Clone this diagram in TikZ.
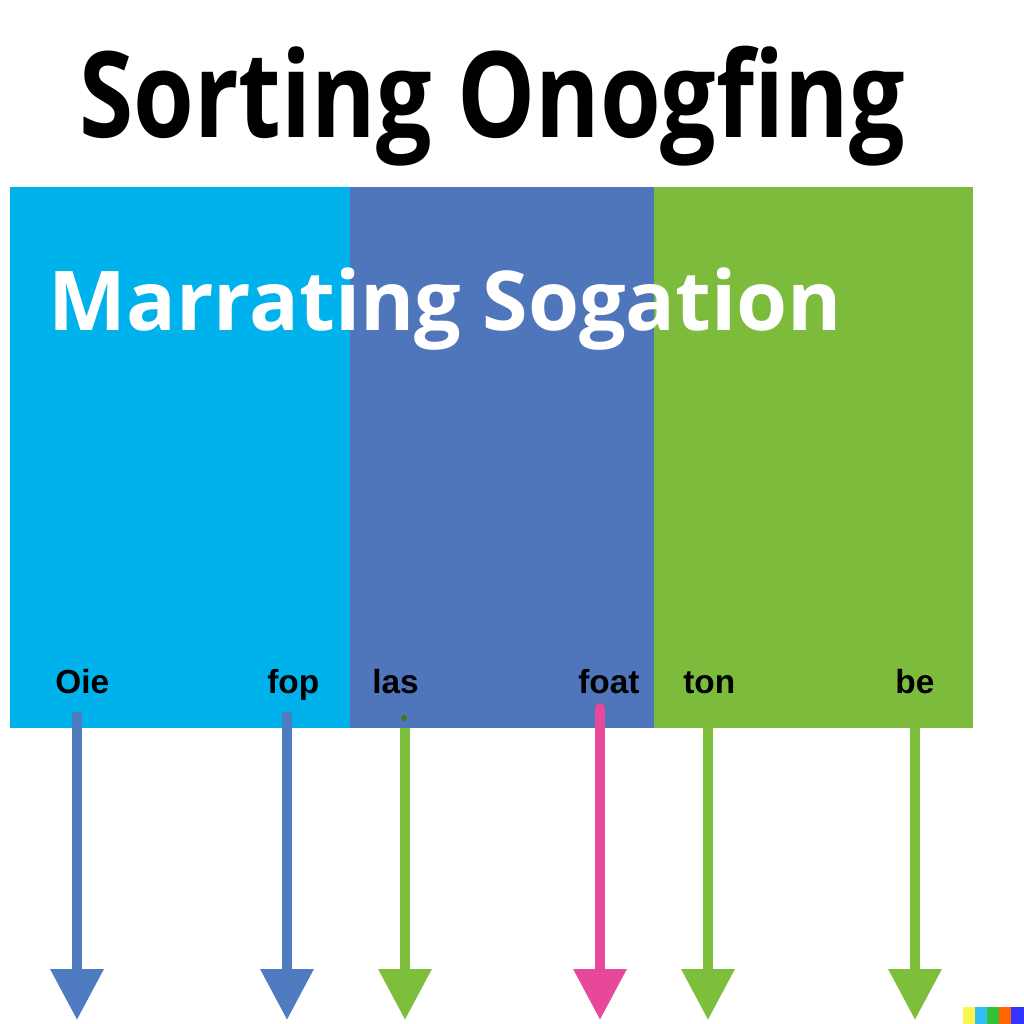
\documentclass[tikz,border=0pt]{standalone}
\usepackage{fontspec}
\setmainfont{Open Sans}
\newfontfamily\lblfont{Liberation Sans}
\usetikzlibrary{arrows.meta}
\definecolor{cyanbox}{HTML}{00B2EB}
\definecolor{bluebox}{HTML}{4F75BA}
\definecolor{greenbox}{HTML}{7CBB3C}
\definecolor{arrblue}{HTML}{4F7BC0}
\definecolor{arrgreen}{HTML}{7DBE3A}
\definecolor{arrpink}{HTML}{E8489A}
\tikzset{
  panel/.style={fill=#1, draw=none},
  lbl/.style={anchor=base west, inner sep=0pt, font=\lblfont\bfseries\fontsize{19}{19}\selectfont, text=black},
  downarrow/.style={draw=#1, line width=5.6pt, -{Triangle[width=29pt,length=29pt]}, shorten >=0pt},
}
\begin{document}
\begin{tikzpicture}[x=0.02cm,y=-0.02cm]
\useasboundingbox[fill=white] (0,0) rectangle (1024,1024);
% panels
\fill[panel=cyanbox] (10,187) rectangle (350,728);
\fill[panel=bluebox] (350,187) rectangle (654,728);
\fill[panel=greenbox] (654,187) rectangle (973,728);
% title
\node[anchor=base, inner sep=0pt, font=\bfseries\fontsize{68}{68}\selectfont] (title) at (492,137) {\scalebox{0.823}[1]{Sorting Onogfing}};
\node[anchor=base west, inner sep=0pt, text=white, font=\bfseries\fontsize{47}{47}\selectfont] (sub) at (48,330) {\scalebox{1.0}[1]{Marrating Sogation}};
% labels
\node[lbl] (l1) at (55,693) {Oie};
\node[lbl] (l2) at (267,693) {fop};
\node[lbl] (l3) at (372,693) {las};
\node[lbl] (l4) at (578,693) {foat};
\node[lbl] (l5) at (683,693) {ton};
\node[lbl] (l6) at (895,693) {be};
% arrow coordinates
\coordinate (s1) at (77,712); \coordinate (e1) at (77,1020);
\coordinate (s2) at (287,712); \coordinate (e2) at (287,1020);
\coordinate (s3) at (405,728); \coordinate (e3) at (405,1020);
\coordinate (s4) at (600,708); \coordinate (e4) at (600,1020);
\coordinate (s5) at (708,728); \coordinate (e5) at (708,1020);
\coordinate (s6) at (915,728); \coordinate (e6) at (915,1020);
\draw[downarrow=arrblue] (s1) -- (e1);
\draw[downarrow=arrblue] (s2) -- (e2);
\draw[downarrow=arrgreen] (s3) -- (e3);
\draw[downarrow=arrpink, line cap=round] (s4) -- (e4);
\draw[downarrow=arrgreen] (s5) -- (e5);
\draw[downarrow=arrgreen] (s6) -- (e6);
\fill[arrgreen!60!black] (404,718) circle (3);
% colour swatch
\fill[yellow!70!white] (963,1007) rectangle (975,1024);
\fill[cyan!80!white] (975,1007) rectangle (987,1024);
\fill[green!70!black!80!white] (987,1007) rectangle (999,1024);
\fill[orange!80!red] (999,1007) rectangle (1011,1024);
\fill[blue!80!white] (1011,1007) rectangle (1024,1024);
\end{tikzpicture}
\end{document}
